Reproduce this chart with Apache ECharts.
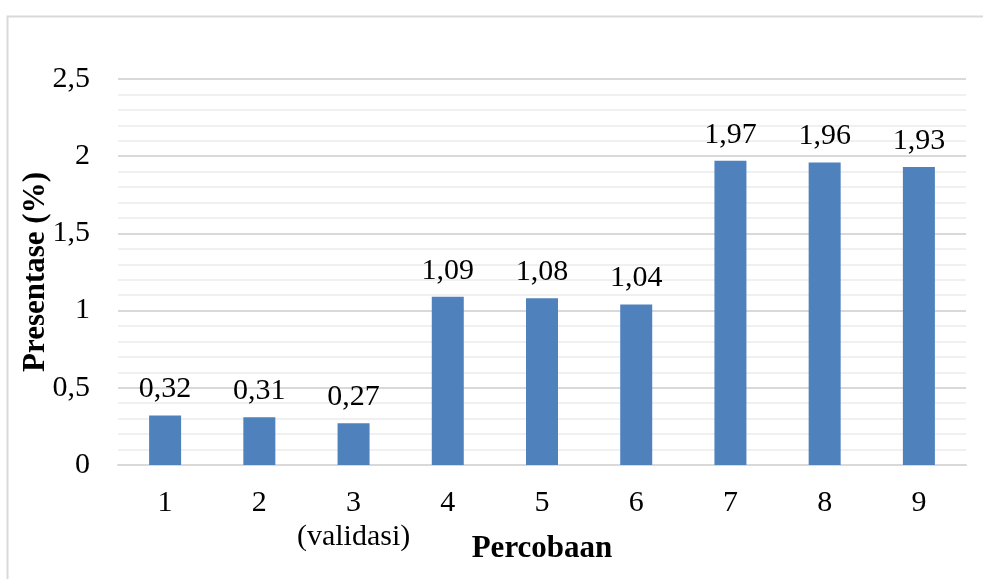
<!DOCTYPE html>
<html><head><meta charset="utf-8">
<script src="https://cdn.jsdelivr.net/npm/echarts@6/dist/echarts.min.js"></script>
<style>html,body{margin:0;padding:0;background:#fff}#c{width:983px;height:579px}</style>
</head><body><div id="c"></div>
<script>
const categories = ['1','2','3\n(validasi)','4','5','6','7','8','9'];
const values = [0.32,0.31,0.27,1.09,1.08,1.04,1.97,1.96,1.93];
const yTicks = [0,0.5,1,1.5,2,2.5];
const xTitle = 'Percobaan';
const yTitle = 'Presentase (%)';
const fmt = v => String(v).replace('.', ',');
const font = '"Liberation Serif","Times New Roman",serif';
const chart = echarts.init(document.getElementById('c'), null, {renderer:'canvas'});
chart.setOption({
  animation:false,
  graphic:[{type:'rect',left:5,top:14,shape:{width:1000,height:600},style:{fill:'none',stroke:'#d9d9d9',lineWidth:2},silent:true,z:-1}],
  grid:{left:118,right:17,top:79,bottom:114,outerBoundsMode:'none',containLabel:false},
  xAxis:{type:'category',data:categories,
    axisLine:{lineStyle:{color:'#d9d9d9',width:2}},axisTick:{show:false},
    axisLabel:{interval:0,color:'#000',fontFamily:font,fontSize:30,margin:21,lineHeight:34,verticalAlign:'top'},
    name:xTitle,nameLocation:'middle',nameGap:68,nameMoveOverlap:false,
    nameTextStyle:{color:'#000',fontFamily:font,fontSize:31,fontWeight:'bold'}},
  yAxis:{type:'value',min:yTicks[0],max:yTicks[yTicks.length-1],interval:0.5,
    axisLine:{show:false},axisTick:{show:false},
    axisLabel:{color:'#000',fontFamily:font,fontSize:30,margin:28,formatter:v=>fmt(v)},
    splitLine:{lineStyle:{color:'#d9d9d9',width:2}},
    minorTick:{show:false,splitNumber:5},
    minorSplitLine:{show:true,lineStyle:{color:'#f0f0f0',width:2}},
    name:yTitle,nameLocation:'middle',nameGap:67,nameMoveOverlap:false,
    nameTextStyle:{color:'#000',fontFamily:font,fontSize:31,fontWeight:'bold'}},
  series:[{type:'bar',data:values,barWidth:32,itemStyle:{color:'#4f81bd'},
    label:{show:true,position:'top',distance:11,color:'#000',fontFamily:font,fontSize:30,formatter:p=>fmt(p.value)}}]
});
</script></body></html>
